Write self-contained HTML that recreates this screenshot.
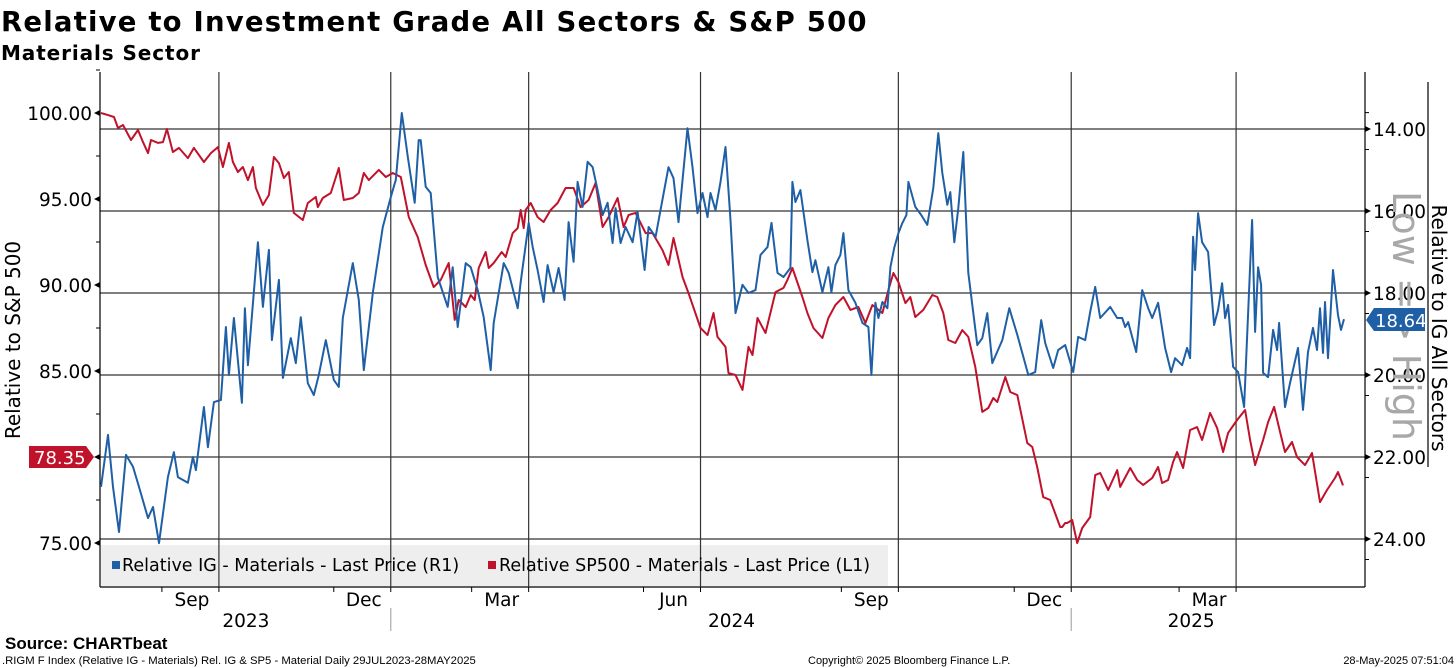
<!DOCTYPE html>
<html><head><meta charset="utf-8"><style>
body{margin:0;background:#fff;width:1456px;height:668px;overflow:hidden;font-family:"DejaVu Sans","Liberation Sans",sans-serif}
svg{position:absolute;left:0;top:0}
</style></head><body>
<svg id="chart" width="1456" height="668" xmlns="http://www.w3.org/2000/svg">
<text x="1" y="31" font-size="27.5" font-weight="bold" letter-spacing="1.2" fill="#000">Relative to Investment Grade All Sectors &amp; S&amp;P 500</text>
<text x="1" y="60" font-size="20" font-weight="bold" letter-spacing="0.9" fill="#000">Materials Sector</text>
<g id="grid"></g>
<g id="axes"></g>
<rect x="101" y="545" width="787" height="41" fill="#eeeeee"/>
<g id="vgrid"></g>
<g id="series"></g>
<g>
<rect x="112" y="561" width="8" height="8" fill="#1f5fa6"/>
<text x="122" y="571" font-size="17.5" fill="#000">Relative IG - Materials - Last Price (R1)</text>
<rect x="488" y="561" width="8" height="8" fill="#c0122b"/>
<text x="499" y="571" font-size="17.5" fill="#000">Relative SP500 - Materials - Last Price (L1)</text>
</g>
<text transform="translate(20,340) rotate(-90)" text-anchor="middle" font-size="20" fill="#000">Relative to S&amp;P 500</text>
<text transform="translate(1432,328) rotate(90)" text-anchor="middle" font-size="20" fill="#000">Relative to IG All Sectors</text>
<text transform="translate(1393,316) rotate(90)" text-anchor="middle" font-size="38" fill="#a8a8a8">Low =&gt; High</text>
<line x1="1428" y1="82" x2="1428" y2="467" stroke="#000" stroke-width="1.2"/>
<g>
<path d="M1366,320 L1374,308 L1425,308 L1425,331 L1374,331 Z" fill="#1f5fa6"/>
<text x="1375" y="327" font-size="18" fill="#fff" id="lastIg">18.64</text>
</g>
<g>
<path d="M29,446 L86,446 L94,457 L86,468 L29,468 Z" fill="#c0122b"/>
<text x="34" y="464" font-size="18" fill="#fff" id="lastSp">78.35</text>
</g>
<text x="5" y="649" font-size="17" font-weight="bold" fill="#000" font-family="Liberation Sans">Source:  CHARTbeat</text>
<text x="2" y="664" font-size="11.3" fill="#000" font-family="Liberation Sans">.RIGM F Index (Relative IG - Materials) Rel. IG &amp; SP5 - Material  Daily 29JUL2023-28MAY2025</text>
<text x="808" y="664" font-size="11" fill="#000" font-family="Liberation Sans">Copyright© 2025 Bloomberg Finance L.P.</text>
<text x="1454" y="664" font-size="11" fill="#000" text-anchor="end" font-family="Liberation Sans">28-May-2025 07:51:04</text>
</svg>
<script>
const NS="http://www.w3.org/2000/svg";
const tDomain=[0,1244];
const igT=[0,7,12,18,25,32,38,47,52,58,67,73,77,87,92,95,103,107,113,120,125,128,133,141,144,147,157,162,168,171,178,182,190,195,200,207,213,218,225,233,238,242,252,258,263,272,282,290,295,301,307,314,318,320,325,330,337,347,352,357,365,370,377,383,390,393,403,408,417,420,428,432,437,443,447,453,458,464,468,473,477,482,487,492,497,502,507,512,515,520,525,532,537,544,548,555,560,568,573,578,587,592,597,602,607,610,615,620,625,630,635,642,648,655,660,667,671,677,683,690,692,695,700,707,712,715,722,728,731,735,740,743,748,755,762,768,771,775,778,782,787,790,794,798,802,806,808,815,821,827,833,838,842,847,850,854,858,863,868,877,882,887,892,902,909,917,928,935,941,945,953,958,965,973,978,985,990,995,1000,1010,1017,1022,1025,1028,1036,1042,1048,1052,1058,1065,1071,1075,1082,1087,1090,1093,1095,1098,1102,1108,1114,1118,1122,1125,1128,1133,1138,1144,1152,1155,1158,1161,1163,1168,1173,1177,1179,1185,1190,1198,1203,1208,1213,1217,1220,1223,1225,1228,1233,1238,1241,1244];
const igVals=[22.73,21.46,22.73,23.83,21.95,22.24,22.73,23.49,23.22,24.10,22.49,21.88,22.49,22.63,22.00,22.32,20.78,21.76,20.66,20.61,18.83,20.00,18.61,20.68,18.37,19.76,16.76,18.34,16.95,19.15,17.68,20.07,19.10,19.71,18.59,20.20,20.49,20.00,19.15,20.12,20.29,18.61,17.27,18.17,19.88,18.00,16.39,15.66,15.24,13.61,14.68,15.80,14.27,14.27,15.41,15.56,17.61,18.34,17.37,18.83,17.27,17.37,17.93,18.59,19.88,18.73,17.27,17.51,18.37,17.73,16.29,16.88,17.44,18.22,17.32,17.98,17.39,18.17,16.27,17.24,15.29,15.90,14.80,14.93,15.49,16.10,15.80,16.78,15.93,16.78,16.39,16.76,16.02,17.44,16.39,16.63,15.98,14.93,15.20,16.27,13.98,14.93,16.05,15.56,16.15,15.56,15.98,15.29,14.44,16.22,18.49,17.80,18.00,17.93,17.07,16.88,16.29,17.51,17.61,17.39,15.29,15.78,15.49,16.71,17.49,17.20,17.98,17.37,17.98,17.32,17.07,16.54,17.93,18.24,18.73,18.83,20.00,18.24,18.61,18.22,18.37,17.37,16.88,16.54,16.29,16.10,15.29,15.90,16.10,16.34,15.44,14.10,15.07,15.85,15.54,16.76,15.93,14.56,17.51,19.27,19.10,18.49,19.71,19.15,18.37,19.02,20.00,19.93,18.66,19.22,19.83,19.39,19.27,19.93,19.07,19.15,18.46,17.85,18.61,18.34,18.61,18.61,18.83,18.71,19.44,17.93,18.37,18.61,18.24,19.34,19.93,19.59,19.76,19.34,19.59,16.63,17.44,16.05,16.76,17.00,18.78,18.41,17.76,18.61,18.29,19.80,19.93,20.78,16.22,18.95,17.37,17.80,19.95,20.05,18.90,19.39,18.73,20.78,20.20,19.34,20.85,19.44,18.85,19.39,18.37,19.46,18.22,19.59,17.44,18.54,18.90,18.64];
const spT=[0,7,13,17,22,30,37,42,47,50,57,62,66,72,78,87,93,103,110,117,122,128,132,137,142,147,152,155,162,168,173,178,183,188,193,202,207,215,217,222,230,238,243,252,258,263,268,278,285,292,300,308,317,325,333,340,348,354,358,365,370,374,378,385,388,393,401,405,412,417,420,423,425,430,437,443,450,457,465,473,480,488,495,502,508,517,523,528,535,545,552,562,568,573,582,588,600,607,613,617,625,628,635,642,648,652,657,665,675,683,687,692,702,707,713,722,728,735,743,750,758,765,772,782,788,793,798,805,810,815,823,832,837,843,848,855,862,868,875,882,888,893,897,905,910,917,927,932,937,943,950,960,962,965,967,972,977,982,990,995,1000,1008,1017,1020,1030,1037,1043,1052,1058,1062,1068,1073,1077,1083,1090,1097,1102,1110,1117,1123,1128,1137,1145,1150,1155,1163,1168,1174,1180,1185,1192,1197,1205,1212,1220,1227,1235,1238,1243];
const spVals=[100.0,99.88,99.77,99.13,99.30,98.43,99.01,98.31,97.67,98.43,98.26,98.31,99.07,97.73,97.97,97.38,97.97,97.15,97.67,98.02,96.86,98.26,97.15,96.57,96.86,96.10,96.86,95.64,94.65,95.23,97.44,97.09,96.22,96.57,94.19,93.78,94.77,95.12,94.53,95.06,95.35,96.80,94.94,95.06,95.35,96.51,96.10,96.69,96.28,96.51,96.28,93.95,92.79,91.16,89.88,90.29,91.28,87.97,89.13,88.72,89.42,89.13,90.99,91.92,90.99,91.28,91.92,91.63,93.02,93.31,94.36,93.31,94.36,94.77,93.95,93.66,94.36,94.77,95.64,95.64,94.53,94.94,95.93,93.37,93.95,95.06,93.37,94.07,94.19,93.02,93.02,92.03,91.16,92.73,90.47,89.53,87.50,87.09,88.37,86.98,86.40,84.88,84.77,83.90,86.40,85.93,88.08,87.21,89.59,89.83,90.29,90.99,89.30,88.37,87.50,86.92,88.08,88.84,89.30,88.55,88.72,87.79,88.84,88.37,89.71,90.70,90.17,88.95,89.30,88.14,88.55,89.42,89.30,88.37,86.80,86.63,87.38,86.98,85.23,82.62,82.85,83.43,83.20,84.65,83.78,83.60,80.81,80.58,79.42,77.67,77.50,75.93,75.93,76.16,76.16,76.34,75.00,75.87,76.51,78.95,79.07,78.08,79.24,78.26,79.36,78.66,78.37,78.78,79.42,78.49,78.66,79.71,80.29,79.36,81.57,81.74,80.99,82.56,81.69,80.29,81.40,82.15,82.73,80.99,79.53,80.99,82.03,82.91,81.45,80.29,80.87,80.00,79.53,80.23,77.38,78.08,78.78,79.13,78.35];
const leftTicks=[75,80,85,90,95,100];
const leftTickLabels=["75.00","80.00","85.00","90.00","95.00","100.00"];
const rightTicks=[14,16,18,20,22,24];
const rightTickLabels=["14.00","16.00","18.00","20.00","22.00","24.00"];
const monthTicksT=[118,290,428,600,798,971,1136];
const monthLabels=["Sep","Dec","Mar","Jun","Sep","Dec","Mar"];
const yearLabels=["2023","2024","2025"];
const yearLabelT=[145,631,1091];
const yearSepT=[290,971];

const X0=101,X1=1344,PT=72,PB=587,AXL=100,AXR=1365;
const xS=t=>X0+(t-tDomain[0])/(tDomain[1]-tDomain[0])*(X1-X0);
const yL=v=>113+(100-v)*17.2;
const yR=v=>129+(v-14)*41;
const svg=document.getElementById('chart');
function mk(tag,attrs,parent){const e=document.createElementNS(NS,tag);for(const k in attrs)e.setAttribute(k,attrs[k]);(parent||svg).appendChild(e);return e;}
const grid=document.getElementById('grid'),axes=document.getElementById('axes'),vgrid=document.getElementById('vgrid'),series=document.getElementById('series');
rightTicks.forEach((v,i)=>{
  const y=yR(v);
  const l=mk('line',{x1:AXL,y1:y,x2:AXR,y2:y,stroke:'#333','stroke-width':1.2},grid);
  
  
  mk('path',{d:`M${AXR},${y-3} L${AXR+6},${y} L${AXR},${y+3}Z`,fill:'#000'},axes);
  mk('line',{x1:AXR,y1:y+20.5,x2:AXR+4,y2:y+20.5,stroke:'#000'},axes);
  const t=mk('text',{x:AXR+8,y:y+7,'font-size':18.5,fill:'#000'},axes);
  t.textContent=rightTickLabels[i];
  
  
});
mk('line',{x1:AXR,y1:PT,x2:AXR,y2:PB,stroke:'#000','stroke-width':1.2},axes);
mk('line',{x1:AXR,y1:yR(13.6),x2:AXR+4,y2:yR(13.6),stroke:'#000'},axes);
leftTicks.forEach((v,i)=>{
  const y=yL(v);
  mk('path',{d:`M${AXL},${y-3} L${AXL-6},${y} L${AXL},${y+3}Z`,fill:'#000'},axes);
  mk('line',{x1:AXL,y1:y-43,x2:AXL-4,y2:y-43,stroke:'#000'},axes);
  const t=mk('text',{x:AXL-8,y:y+7,'font-size':18.5,'text-anchor':'end',fill:'#000'},axes);
  t.textContent=leftTickLabels[i];
  
  
});
mk('line',{x1:AXL,y1:PT,x2:AXL,y2:PB,stroke:'#000','stroke-width':1.2},axes);
mk('line',{x1:AXL,y1:PB,x2:AXR,y2:PB,stroke:'#000','stroke-width':1.2},axes);
monthTicksT.forEach((t,i)=>{
  const x=xS(t);
  const l=mk('line',{x1:x,y1:PT,x2:x,y2:PB,stroke:'#333','stroke-width':1.2},vgrid);
  
  
  mk('line',{x1:x,y1:PB,x2:x,y2:PB+5,stroke:'#000'},axes);
  mk('line',{x1:x-57,y1:PB,x2:x-57,y2:PB+5,stroke:'#000'},axes);
  const tx=mk('text',{x:x-27,y:PB+19,'font-size':18.5,'text-anchor':'middle',fill:'#000'},axes);
  tx.textContent=monthLabels[i];
  
  
});
yearLabels.forEach((s,i)=>{
  const tx=mk('text',{x:xS(yearLabelT[i]),y:PB+40,'font-size':18.5,'text-anchor':'middle',fill:'#000'},axes);
  tx.textContent=s;
  
  
});
yearSepT.forEach(t=>{mk('line',{x1:xS(t),y1:608,x2:xS(t),y2:631,stroke:'#aaa','stroke-width':1.2},axes);});
const spPath=mk('path',{d:spT.map((t,i)=>(i?'L':'M')+xS(t).toFixed(1)+','+yL(spVals[i]).toFixed(1)).join(''),fill:'none',stroke:'#c0122b','stroke-width':2,'stroke-linejoin':'round'},series);


const igPath=mk('path',{d:igT.map((t,i)=>(i?'L':'M')+xS(t).toFixed(1)+','+yR(igVals[i]).toFixed(1)).join(''),fill:'none',stroke:'#1f5fa6','stroke-width':2,'stroke-linejoin':'round'},series);


document.getElementById('lastIg').textContent=igVals[igVals.length-1].toFixed(2);
document.getElementById('lastSp').textContent=spVals[spVals.length-1].toFixed(2);
</script>
</body></html>
